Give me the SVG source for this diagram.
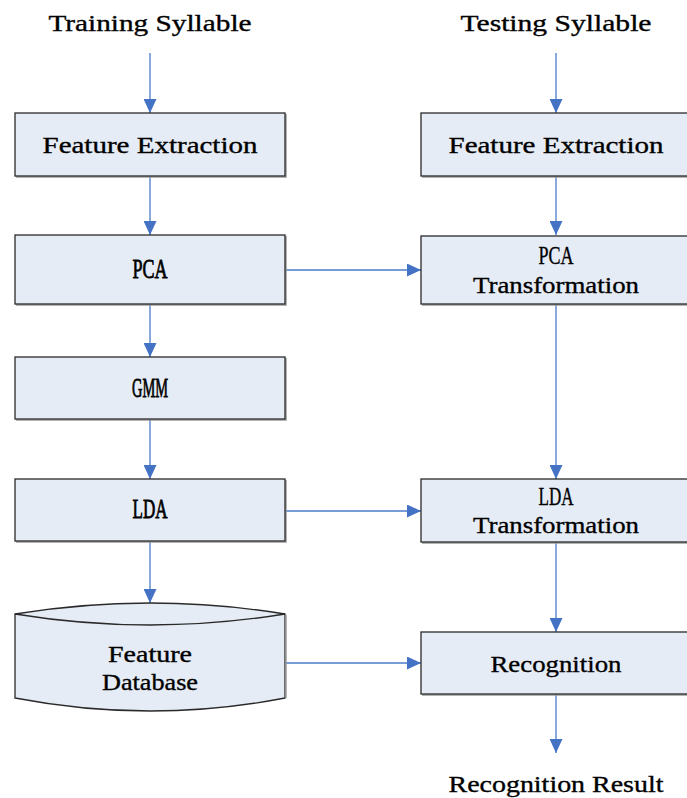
<svg xmlns="http://www.w3.org/2000/svg" width="687" height="798" viewBox="0 0 687 798">
  <defs>
    <marker id="arrow" markerUnits="userSpaceOnUse" markerWidth="14" markerHeight="13" refX="14" refY="6.5" orient="auto">
      <path d="M0,0 L14,6.5 L0,13 Z" fill="#4472C4"/>
    </marker>
    <style>
      .box { fill: #E6ECF6; stroke: #2a2a2a; stroke-width: 1.3; }
      .shadow { fill: none; stroke: #9a9a9a; stroke-width: 1.5; }
      .conn { stroke: #4A7BC8; stroke-width: 1.3; fill: none; marker-end: url(#arrow); }
      text { font-family: "Liberation Serif", "DejaVu Serif", serif; font-size: 24px; fill: #000; stroke: #000; stroke-width: 0.35; text-anchor: middle; }
      .heavy { font-size: 27px; stroke-width: 0.8; }
      .caps { font-size: 26px; stroke-width: 0.4; }
    </style>
  </defs>

  <rect width="687" height="798" fill="#ffffff"/>

  <!-- input / output labels -->
  <g id="training-syllable"><text x="150" y="31" textLength="203" lengthAdjust="spacingAndGlyphs">Training Syllable</text></g>
  <g id="testing-syllable"><text x="556" y="31" textLength="191" lengthAdjust="spacingAndGlyphs">Testing Syllable</text></g>
  <g id="recognition-result"><text x="556" y="792" textLength="215" lengthAdjust="spacingAndGlyphs">Recognition Result</text></g>

  <!-- connectors -->
  <g id="connectors">
    <line class="conn" x1="150" y1="53" x2="150" y2="113"/>
    <line class="conn" x1="556" y1="53" x2="556" y2="113"/>
    <line class="conn" x1="150" y1="176" x2="150" y2="235"/>
    <line class="conn" x1="556" y1="176" x2="556" y2="235"/>
    <line class="conn" x1="150" y1="304" x2="150" y2="357"/>
    <line class="conn" x1="150" y1="419" x2="150" y2="479"/>
    <line class="conn" x1="150" y1="541" x2="150" y2="603"/>
    <line class="conn" x1="285" y1="270" x2="421" y2="270"/>
    <line class="conn" x1="556" y1="304" x2="556" y2="479"/>
    <line class="conn" x1="285" y1="511" x2="421" y2="511"/>
    <line class="conn" x1="556" y1="542" x2="556" y2="632"/>
    <line class="conn" x1="285" y1="663" x2="421" y2="663"/>
    <line class="conn" x1="556" y1="694" x2="556" y2="753"/>
  </g>

  <!-- training column -->
  <g id="train-feature-extraction">
    <polyline class="shadow" points="286,114 286,177 16,177"/>
    <rect class="box" x="15" y="113" width="270" height="63"/>
    <text x="150" y="153" textLength="215" lengthAdjust="spacingAndGlyphs">Feature Extraction</text>
  </g>
  <g id="pca">
    <polyline class="shadow" points="286,236 286,305 16,305"/>
    <rect class="box" x="15" y="235" width="270" height="69"/>
    <text class="heavy" x="150" y="278" textLength="35" lengthAdjust="spacingAndGlyphs">PCA</text>
  </g>
  <g id="gmm">
    <polyline class="shadow" points="286,358 286,420 16,420"/>
    <rect class="box" x="15" y="357" width="270" height="62"/>
    <text class="heavy" x="150" y="397" textLength="36" lengthAdjust="spacingAndGlyphs">GMM</text>
  </g>
  <g id="lda">
    <polyline class="shadow" points="286,480 286,542 16,542"/>
    <rect class="box" x="15" y="479" width="270" height="62"/>
    <text class="heavy" x="150" y="518" textLength="35" lengthAdjust="spacingAndGlyphs">LDA</text>
  </g>
  <g id="feature-database">
    <path class="box" d="M15,614 Q150,592 285,614 L285,698 Q150,724 15,698 Z"/>
    <path d="M15,614 Q150,636 285,614" fill="none" stroke="#2a2a2a" stroke-width="1.3"/>
    <line x1="286" y1="615" x2="286" y2="698" stroke="#9a9a9a" stroke-width="1.5"/>
    <text x="150" y="662" textLength="84" lengthAdjust="spacingAndGlyphs">Feature</text>
    <text x="150" y="690" textLength="96" lengthAdjust="spacingAndGlyphs">Database</text>
  </g>

  <!-- testing column -->
  <g id="test-feature-extraction">
    <polyline class="shadow" points="422,177 692,177"/>
    <rect class="box" x="421" y="113" width="270" height="63"/>
    <text x="556" y="153" textLength="215" lengthAdjust="spacingAndGlyphs">Feature Extraction</text>
  </g>
  <g id="pca-transformation">
    <polyline class="shadow" points="422,305 692,305"/>
    <rect class="box" x="421" y="236" width="270" height="68"/>
    <text class="caps" x="556" y="264" textLength="35" lengthAdjust="spacingAndGlyphs">PCA</text>
    <text x="556" y="293" textLength="166" lengthAdjust="spacingAndGlyphs">Transformation</text>
  </g>
  <g id="lda-transformation">
    <polyline class="shadow" points="422,543 692,543"/>
    <rect class="box" x="421" y="479" width="270" height="63"/>
    <text class="caps" x="556" y="505" textLength="35" lengthAdjust="spacingAndGlyphs">LDA</text>
    <text x="556" y="533" textLength="166" lengthAdjust="spacingAndGlyphs">Transformation</text>
  </g>
  <g id="recognition">
    <polyline class="shadow" points="422,695 692,695"/>
    <rect class="box" x="421" y="632" width="270" height="62"/>
    <text x="556" y="672" textLength="131" lengthAdjust="spacingAndGlyphs">Recognition</text>
  </g>
</svg>
